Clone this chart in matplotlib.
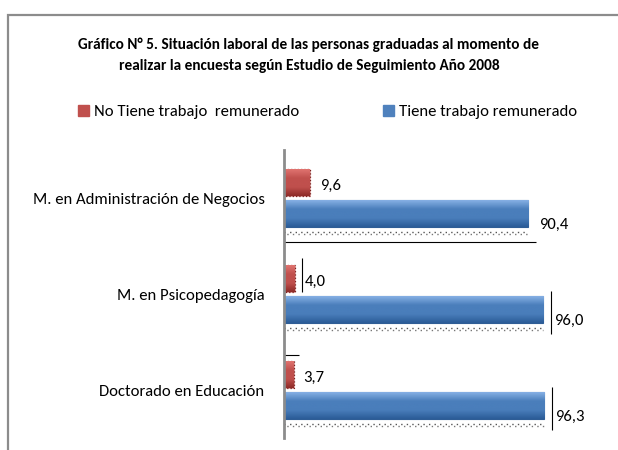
import numpy as np
import matplotlib.pyplot as plt
from matplotlib.patches import Rectangle
from matplotlib.colors import LinearSegmentedColormap

categories = ["M. en Administración de Negocios", "M. en Psicopedagogía", "Doctorado en Educación"]
no_trabajo = [9.6, 4.0, 3.7]
si_trabajo = [90.4, 96.0, 96.3]
series_names = ["No Tiene trabajo  remunerado", "Tiene trabajo remunerado"]

plt.rcParams['font.family'] = ['Carlito', 'DejaVu Sans']

fig = plt.figure(figsize=(6.18, 4.5), dpi=100)
# outer chart frame
fig.patches.append(Rectangle((8 / 618, -0.1), 1.2, 0.1 + 1 - 15 / 450, transform=fig.transFigure,
                             fill=False, edgecolor='#8c8c8c', lw=1.6))

ax = fig.add_axes([284 / 618, 1 - 438 / 450, (554 - 284) / 618, (438 - 150) / 450])
y = np.arange(len(categories))
h = 0.28
red_bars = ax.barh(y - 0.165, no_trabajo, height=h, color='#C0504D', edgecolor='#7A2220',
                   linestyle=':', lw=0.9, zorder=2)
blue_bars = ax.barh(y + 0.165, si_trabajo, height=h, color='#4F81BD', edgecolor='#2F5D95',
                    lw=0.8, zorder=2)


def shade(bars, light, mid, dark):
    # vertical gradient inside each bar, roughly like the bevel effect
    cmap = LinearSegmentedColormap.from_list('g', [light, mid, mid, dark])
    grad = np.linspace(0, 1, 64).reshape(-1, 1)
    for b in bars:
        x0, y0 = b.get_x(), b.get_y()
        w, hh = b.get_width(), b.get_height()
        im = ax.imshow(grad, cmap=cmap, aspect='auto', extent=(x0, x0 + w, y0 + hh, y0),
                       zorder=2.5, interpolation='bicubic')
        im.set_clip_path(b)


shade(blue_bars, '#86B0E4', '#4A7EBB', '#2B5C97')
shade(red_bars, '#E07470', '#C0504D', '#8E2B28')

# dotted shadow under blue bars
for yi, v in zip(y, si_trabajo):
    ax.hlines(yi + 0.165 + h / 2 + 0.045, 0, v, colors='#555555', linestyles=(0, (1, 3)), lw=1.0, zorder=1)
    ax.hlines(yi + 0.165 + h / 2 + 0.065, 0, v, colors='#777777', linestyles=(2, (1, 3)), lw=1.0, zorder=1)

for b, v in zip(red_bars, no_trabajo):
    ax.annotate(f"{v:.1f}".replace('.', ','), (v, b.get_y() + b.get_height() / 2),
                xytext=(7, -3), textcoords='offset points', va='center', ha='left', fontsize=12)
for b, v in zip(blue_bars, si_trabajo):
    ax.annotate(f"{v:.1f}".replace('.', ','), (v, b.get_y() + b.get_height() / 2),
                xytext=(8, -8), textcoords='offset points', va='center', ha='left', fontsize=12)

# stray leader lines from the original labels
ax.hlines(0 + 0.165 + h / 2 + 0.15, 0, si_trabajo[0] + 3, colors='black', lw=0.8)
ax.vlines(no_trabajo[1] + 2.5, 1 - 0.38, 1 - 0.02, colors='black', lw=0.8)
ax.vlines(si_trabajo[1] + 3, 1 - 0.03, 1 + 0.42, colors='black', lw=0.8)
ax.vlines(si_trabajo[2] + 3, 2 - 0.03, 2 + 0.42, colors='black', lw=0.8)
ax.hlines(2 - 0.36, 0, no_trabajo[2] + 2, colors='black', lw=0.8)

ax.set_xlim(0, 100)
ax.set_ylim(2.5, -0.5)
ax.set_yticks(y)
ax.set_yticklabels(categories, fontsize=12)
ax.tick_params(axis='y', length=0, pad=14)
ax.set_xticks([])
for s in ['top', 'right', 'bottom']:
    ax.spines[s].set_visible(False)
ax.spines['left'].set_color('#8c8c8c')
ax.spines['left'].set_linewidth(2)
ax.spines['left'].set_zorder(3)

fig.text(0.5, 1 - 45 / 450, "Gráfico N° 5. Situación laboral de las personas graduadas al momento de",
         ha='center', va='center', fontsize=11, fontweight='bold')
fig.text(0.5, 1 - 66 / 450, "realizar la encuesta según Estudio de Seguimiento Año 2008",
         ha='center', va='center', fontsize=11, fontweight='bold')

handles = [Rectangle((0, 0), 1, 1, color='#C0504D'), Rectangle((0, 0), 1, 1, color='#4F81BD')]
fig.legend(handles, series_names, loc='center', bbox_to_anchor=(0.53, 1 - 112 / 450), ncol=2,
           frameon=False, fontsize=12, handlelength=0.7, handleheight=0.7, handletextpad=0.3,
           columnspacing=5.0)

fig.savefig('out.png', dpi=100)
